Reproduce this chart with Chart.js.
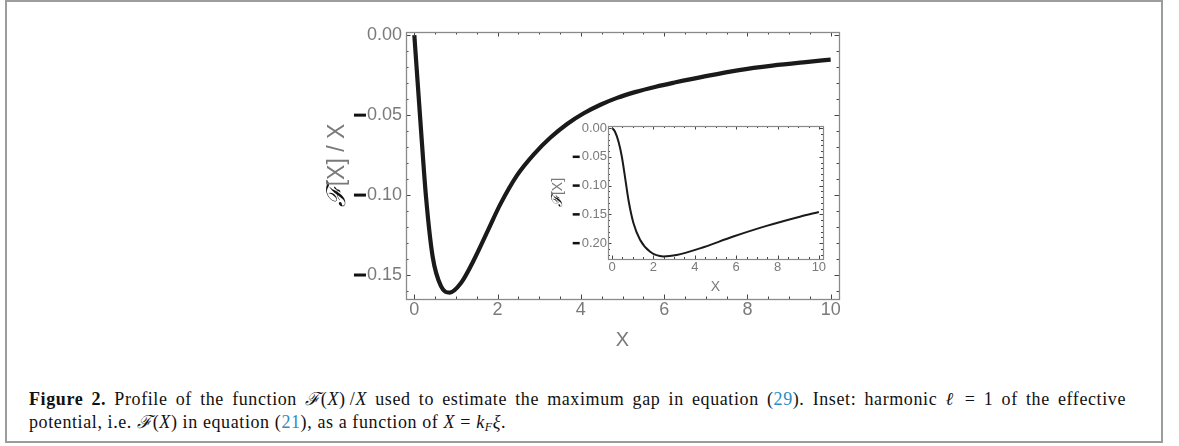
<!DOCTYPE html>
<html><head><meta charset="utf-8">
<script src="https://cdn.jsdelivr.net/npm/chart.js@4"></script>
<style>
html,body{margin:0;padding:0;background:#fff;width:1179px;height:446px;overflow:hidden}
#frame{position:absolute;left:5px;top:0;width:1154px;height:439px;border:2px solid #9c9c9c;}
#main{position:absolute;left:0;top:0}
#inset{position:absolute;left:540px;top:110px}
#cap{position:absolute;left:29px;top:388px;width:1097px;font-family:'Liberation Serif','DejaVu Serif',serif;font-size:18px;letter-spacing:0.6px;color:#111;line-height:23px}
#cap .l1{text-align:justify;text-align-last:justify;white-space:nowrap}
#cap .ref{color:#2b8cc4}
#cap i{font-style:italic}
#cap sub{font-size:12px;vertical-align:-3px;line-height:0}
</style></head>
<body>
<div id="frame"></div>
<canvas id="main" width="1179" height="350"></canvas>
<canvas id="inset" width="300" height="200"></canvas>
<div id="cap">
<div class="l1"><b>Figure 2.</b> Profile of the function <i>ℱ</i>(<i>X</i>)&thinsp;/<i>X</i> used to estimate the maximum gap in equation (<span class="ref">29</span>). Inset: harmonic <i>ℓ</i> = 1 of the effective</div>
<div class="l2">potential, i.e. <i>ℱ</i>(<i>X</i>) in equation (<span class="ref">21</span>), as a function of <i>X</i> = <i>k<sub>F</sub>ξ</i>.</div>
</div>
<script>
// Main plot: F[X]/X versus X
const mainX = [0, 0.16, 0.28, 0.44, 0.64, 0.85, 1.12, 1.43, 1.76, 2.07, 2.47, 2.87, 3.27, 3.67, 4.07, 4.47, 4.87, 5.3, 5.8, 6.25, 7.0, 7.8, 8.6, 9.4, 10];
const mainY = [0, -0.059, -0.101, -0.1385, -0.157, -0.161, -0.155, -0.1406, -0.1225, -0.1055, -0.0875, -0.0745, -0.064, -0.0555, -0.0488, -0.0435, -0.0392, -0.0356, -0.0322, -0.0296, -0.0256, -0.0218, -0.0190, -0.0168, -0.0153];
const mainXTicks = [0, 2, 4, 6, 8, 10];
const mainXTickLabels = ['0', '2', '4', '6', '8', '10'];
const mainYTicks = [0, -0.05, -0.10, -0.15];
const mainYTickLabels = ['0.00', '-0.05', '-0.10', '-0.15'];

// Inset: F[X] versus X
const insetX = [0, 0.14, 0.31, 0.47, 0.63, 0.79, 1.03, 1.35, 1.84, 2.48, 3.12, 4.25, 5.86, 7.47, 9.08, 10];
const insetY = [0, -0.0064, -0.024, -0.050, -0.087, -0.125, -0.165, -0.194, -0.215, -0.223, -0.2205, -0.209, -0.1885, -0.170, -0.154, -0.146];
const insetXTicks = [0, 2, 4, 6, 8, 10];
const insetXTickLabels = ['0', '2', '4', '6', '8', '10'];
const insetYTicks = [0, -0.05, -0.10, -0.15, -0.20];
const insetYTickLabels = ['0.00', '-0.05', '-0.10', '-0.15', '-0.20'];

function makeDecor(o) {
  return {
    id: 'decor',
    afterDatasetsDraw(chart) {
      const c = chart.ctx, a = chart.chartArea, xs = chart.scales.x, ys = chart.scales.y;
      c.save();
      c.strokeStyle = o.tickColor; c.lineWidth = 1;
      const tick = (scale, v, len, horiz) => {
        const p = Math.round(scale.getPixelForValue(v)) + 0.5;
        c.beginPath();
        if (horiz) { c.moveTo(p, a.bottom); c.lineTo(p, a.bottom - len); c.moveTo(p, a.top); c.lineTo(p, a.top + len); }
        else { c.moveTo(a.left, p); c.lineTo(a.left + len, p); c.moveTo(a.right, p); c.lineTo(a.right - len, p); }
        c.stroke();
      };
      const minor = (scale, step, len, horiz) => {
        const n0 = Math.ceil(scale.min / step - 1e-9), n1 = Math.floor(scale.max / step + 1e-9);
        for (let i = n0; i <= n1; i++) tick(scale, i * step, len, horiz);
      };
      minor(xs, o.xMinor, o.minorLen, true);
      minor(ys, o.yMinor, o.minorLen, false);
      o.xTicks.forEach(v => tick(xs, v, o.majorLen, true));
      o.yTicks.forEach(v => tick(ys, v, o.majorLen, false));
      // frame
      c.strokeStyle = o.frameColor; c.lineWidth = o.frameWidth;
      c.strokeRect(Math.round(a.left) + 0.5, Math.round(a.top) + 0.5, Math.round(a.right - a.left), Math.round(a.bottom - a.top));
      // x labels
      c.font = o.labelFont; c.fillStyle = o.labelColor; c.textAlign = 'center'; c.textBaseline = 'middle';
      o.xTicks.forEach((v, i) => c.fillText(o.xLabels[i], xs.getPixelForValue(v), a.bottom + o.xLabelOffset));
      // y labels
      c.textAlign = 'right';
      o.yTicks.forEach((v, i) => {
        const lab = o.yLabels[i], neg = lab[0] === '-', txt = neg ? lab.slice(1) : lab;
        const py = ys.getPixelForValue(v), xr = a.left - o.yLabelGap;
        c.fillStyle = o.labelColor; c.fillText(txt, xr, py + o.yLabelDy);
        if (neg) {
          const w = c.measureText(txt).width;
          c.fillStyle = '#111';
          c.fillRect(xr - w - o.barGap - o.barW, py - o.barH / 2, o.barW, o.barH);
        }
      });
      // x title
      c.font = o.titleFont; c.fillStyle = o.labelColor; c.textAlign = 'center';
      c.fillText('X', (a.left + a.right) / 2, a.bottom + o.xTitleOffset);
      // y title
      c.save();
      c.translate(o.yTitleX, (a.top + a.bottom) / 2);
      c.rotate(-Math.PI / 2);
      c.textAlign = 'left';
      c.font = o.scriptFont; const w1 = c.measureText('ℱ').width;
      c.font = o.yTitleFont; const w2 = c.measureText(o.yTitleRest).width;
      const x0 = -(w1 + w2) / 2;
      c.font = o.scriptFont; c.fillStyle = '#111'; c.fillText('ℱ', x0, 0);
      c.font = o.yTitleFont; c.fillStyle = o.labelColor; c.fillText(o.yTitleRest, x0 + w1, 0);
      c.restore();
      c.restore();
    }
  };
}

function pts(xa, ya) { return xa.map((x, i) => ({ x: x, y: ya[i] })); }

function build(id, xa, ya, lw, pad, xr, yr, decor) {
  return new Chart(document.getElementById(id), {
    type: 'scatter',
    data: { datasets: [{ data: pts(xa, ya), showLine: true, borderColor: '#1a1a1a', borderWidth: lw, pointRadius: 0, cubicInterpolationMode: 'monotone', fill: false }] },
    options: {
      animation: false, responsive: false, devicePixelRatio: 1,
      plugins: { legend: { display: false }, tooltip: { enabled: false } },
      layout: { padding: pad },
      scales: {
        x: { type: 'linear', min: xr[0], max: xr[1], display: false },
        y: { type: 'linear', min: yr[0], max: yr[1], display: false }
      }
    },
    plugins: [makeDecor(decor)]
  });
}

build('main', mainX, mainY, 4.2, { left: 406, right: 340, top: 32, bottom: 51 }, [-0.2, 10.2], [-0.165, 0.002], {
  xTicks: mainXTicks, xLabels: mainXTickLabels, yTicks: mainYTicks, yLabels: mainYTickLabels,
  xMinor: 0.5, yMinor: 0.01, minorLen: 2.5, majorLen: 4.5,
  tickColor: '#444', frameColor: '#8a8a8a', frameWidth: 1.3,
  labelFont: '18px "Liberation Sans", sans-serif', labelColor: '#7a7a7a',
  xLabelOffset: 11, yLabelGap: 4, yLabelDy: 0, barGap: 1, barW: 12, barH: 3,
  titleFont: '20px "Liberation Sans", sans-serif', yTitleFont: '23px "Liberation Sans", sans-serif',
  scriptFont: 'italic 26px "DejaVu Serif", serif',
  xTitleOffset: 41, yTitleX: 338, yTitleRest: '[X] / X'
});

build('inset', insetX, insetY, 2, { left: 68, right: 17, top: 16, bottom: 51 }, [-0.2, 10.2], [-0.2275, 0.0035], {
  xTicks: insetXTicks, xLabels: insetXTickLabels, yTicks: insetYTicks, yLabels: insetYTickLabels,
  xMinor: 0.5, yMinor: 0.01, minorLen: 2, majorLen: 3.5,
  tickColor: '#444', frameColor: '#8a8a8a', frameWidth: 1.2,
  labelFont: '13px "Liberation Sans", sans-serif', labelColor: '#7a7a7a',
  xLabelOffset: 8, yLabelGap: 1, yLabelDy: 0, barGap: 2, barW: 7, barH: 2.5,
  titleFont: '14px "Liberation Sans", sans-serif', yTitleFont: '14px "Liberation Sans", sans-serif',
  scriptFont: 'italic 15px "DejaVu Serif", serif',
  xTitleOffset: 28, yTitleX: 18, yTitleRest: '[X]'
});
</script>
</body></html>
